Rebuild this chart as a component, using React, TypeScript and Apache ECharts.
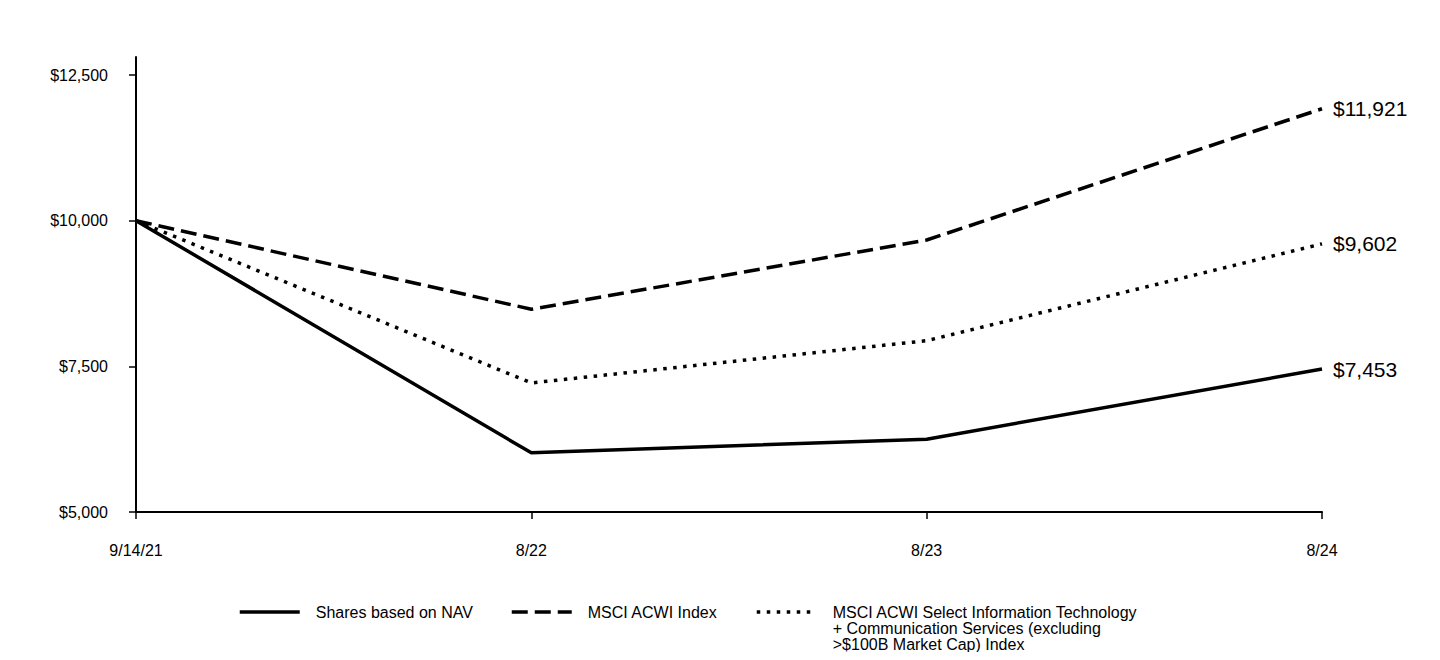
import React, { useEffect, useRef } from "react";
import * as echarts from "echarts";

const categories = ["9/14/21", "8/22", "8/23", "8/24"];
const navValues = [10000, 6015, 6250, 7453];
const acwiValues = [10000, 8480, 9668, 11921];
const selectValues = [10000, 7215, 7940, 9602];
const yTicks = [5000, 7500, 10000, 12500];
const seriesNames = [
  "Shares based on NAV",
  "MSCI ACWI Index",
  "MSCI ACWI Select Information Technology\n+ Communication Services (excluding\n>$100B Market Cap) Index",
];

const fmt = (v: number) => "$" + v.toLocaleString("en-US");
const FONT = "'Liberation Sans', Arial, sans-serif";

export default function App() {
  const ref = useRef<HTMLDivElement>(null);
  useEffect(() => {
    if (!ref.current) return;
    const chart = echarts.init(ref.current, undefined, { renderer: "svg" });
    const endLabel = {
      show: true,
      formatter: (p: any) => fmt(p.value),
      fontSize: 21,
      fontFamily: FONT,
      color: "#000",
      distance: 11,
    };
    const baseText = {
      fontSize: 16,
      fontFamily: FONT,
      color: "#000",
      lineHeight: 16,
      padding: [0, 0, 0, 11],
    };
    const legendBase = {
      orient: "horizontal",
      padding: 0,
      itemWidth: 60,
      itemHeight: 14,
      itemGap: 16,
      icon: "inherit",
      itemStyle: { color: "rgba(0,0,0,0)", borderWidth: 0, borderColor: "rgba(0,0,0,0)" },
      lineStyle: { width: 3.5 },
      selectedMode: false,
      textStyle: baseText,
    };
    const clearItem = { color: "rgba(0,0,0,0)", borderWidth: 0 };
    chart.setOption({
      animation: false,
      backgroundColor: "#fff",
      textStyle: { fontFamily: FONT },
      grid: { left: 136, right: 118, top: 57, bottom: 148, containLabel: false },
      legend: [
        { ...legendBase, data: [seriesNames[0]], left: 238, top: 604 },
        { ...legendBase, data: [seriesNames[1]], left: 510, top: 604 },
        {
          ...legendBase,
          data: [seriesNames[2]],
          left: 755,
          top: 572,
          formatter: (n: string) => "\n\n" + n,
        },
      ],
      xAxis: {
        type: "category",
        data: categories,
        boundaryGap: false,
        axisLine: { lineStyle: { color: "#000", width: 2 } },
        axisTick: { show: true, length: 7, lineStyle: { color: "#000", width: 1.5 } },
        axisLabel: { color: "#000", fontSize: 16, fontFamily: FONT, margin: 30 },
      },
      yAxis: {
        type: "value",
        min: 5000,
        max: 12809,
        splitLine: { show: false },
        axisLine: { show: true, lineStyle: { color: "#000", width: 2 } },
        axisTick: {
          show: true,
          length: 7,
          customValues: yTicks,
          lineStyle: { color: "#000", width: 1.5 },
        },
        axisLabel: {
          color: "#000",
          fontSize: 16,
          fontFamily: FONT,
          margin: 28,
          customValues: yTicks,
          formatter: (v: number) => fmt(v),
        },
      },
      series: [
        {
          name: seriesNames[0],
          type: "line",
          data: navValues,
          symbol: "none",
          lineStyle: { color: "#000", width: 3.5, type: "solid" },
          itemStyle: clearItem,
          endLabel,
        },
        {
          name: seriesNames[1],
          type: "line",
          data: acwiValues,
          symbol: "none",
          lineStyle: { color: "#000", width: 3.5, type: [16, 7] },
          itemStyle: clearItem,
          endLabel,
        },
        {
          name: seriesNames[2],
          type: "line",
          data: selectValues,
          symbol: "none",
          lineStyle: { color: "#000", width: 3.5, type: [3.5, 6.5] },
          itemStyle: clearItem,
          endLabel,
        },
      ],
    });
    return () => chart.dispose();
  }, []);
  return <div ref={ref} style={{ width: 1440, height: 660, margin: -8 }} />;
}
